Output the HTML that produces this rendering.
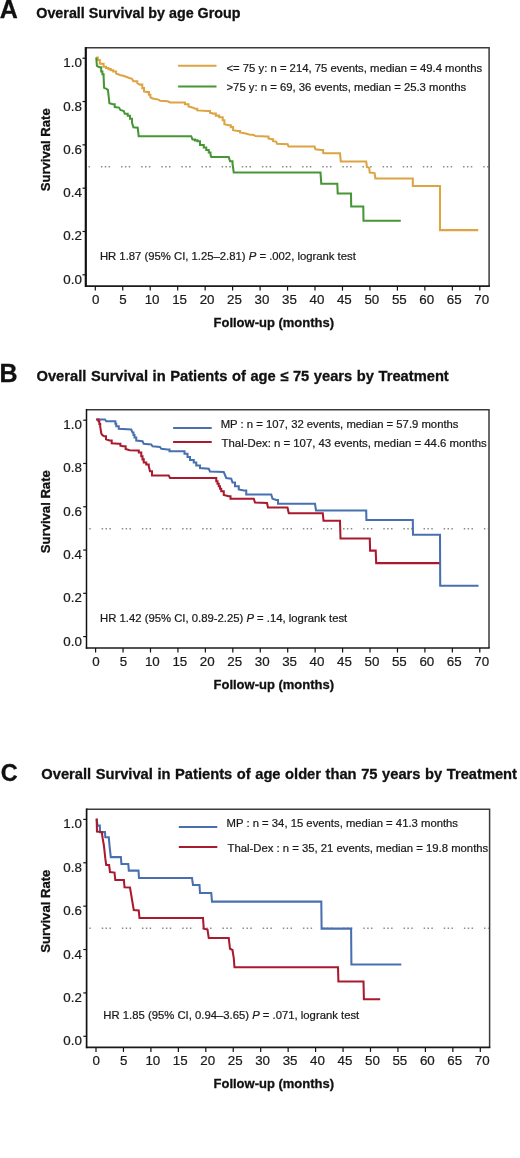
<!DOCTYPE html>
<html><head><meta charset="utf-8"><style>
html,body{margin:0;padding:0;background:#fff;width:520px;height:1158px;overflow:hidden}
svg{display:block;font-family:"Liberation Sans", sans-serif;filter:blur(0.2px)}
text{stroke:currentColor;stroke-width:0.22px}
text[font-weight=bold]{stroke-width:0.3px}
</style></head><body>
<svg width="520" height="1158" viewBox="0 0 520 1158">
<rect width="520" height="1158" fill="#fff"/>
<text x="-0.3" y="17.8" font-size="25" font-weight="bold" fill="#111" color="#111">A</text>
<text x="36.3" y="17.6" font-size="14.3" font-weight="bold" word-spacing="0" fill="#111" color="#111">Overall Survival by age Group</text>
<line x1="87.0" y1="166.80" x2="488.3" y2="166.80" stroke="#8c8c8c" stroke-width="1.5" stroke-dasharray="1.5 2.35 1.5 2.35 1.5 10.92" stroke-dashoffset="6.2"/>
<path d="M85.8,47.8 H489.1 V286.1" fill="none" stroke="#3a3a3a" stroke-width="1.5"/>
<line x1="85.1" y1="286.1" x2="489.85" y2="286.1" stroke="#1a1a1a" stroke-width="1.7"/>
<line x1="85.8" y1="47.05" x2="85.8" y2="286.90000000000003" stroke="#111" stroke-width="2.2"/>
<line x1="82.5" y1="274.80" x2="85.8" y2="274.80" stroke="#111" stroke-width="1.2"/>
<text x="81.9" y="283.80" font-size="13.35" text-anchor="end" fill="#1a1a1a" color="#1a1a1a">0.0</text>
<line x1="82.5" y1="231.48" x2="85.8" y2="231.48" stroke="#111" stroke-width="1.2"/>
<text x="81.9" y="240.48" font-size="13.35" text-anchor="end" fill="#1a1a1a" color="#1a1a1a">0.2</text>
<line x1="82.5" y1="188.16" x2="85.8" y2="188.16" stroke="#111" stroke-width="1.2"/>
<text x="81.9" y="197.16" font-size="13.35" text-anchor="end" fill="#1a1a1a" color="#1a1a1a">0.4</text>
<line x1="82.5" y1="144.84" x2="85.8" y2="144.84" stroke="#111" stroke-width="1.2"/>
<text x="81.9" y="153.84" font-size="13.35" text-anchor="end" fill="#1a1a1a" color="#1a1a1a">0.6</text>
<line x1="82.5" y1="101.52" x2="85.8" y2="101.52" stroke="#111" stroke-width="1.2"/>
<text x="81.9" y="110.52" font-size="13.35" text-anchor="end" fill="#1a1a1a" color="#1a1a1a">0.8</text>
<line x1="82.5" y1="58.20" x2="85.8" y2="58.20" stroke="#111" stroke-width="1.2"/>
<text x="81.9" y="67.20" font-size="13.35" text-anchor="end" fill="#1a1a1a" color="#1a1a1a">1.0</text>
<line x1="95.30" y1="286.1" x2="95.30" y2="290.6" stroke="#111" stroke-width="1.2"/>
<text x="95.60" y="304.00" font-size="13.35" text-anchor="middle" fill="#1a1a1a" color="#1a1a1a">0</text>
<line x1="122.76" y1="286.1" x2="122.76" y2="290.6" stroke="#111" stroke-width="1.2"/>
<text x="123.06" y="304.00" font-size="13.35" text-anchor="middle" fill="#1a1a1a" color="#1a1a1a">5</text>
<line x1="150.23" y1="286.1" x2="150.23" y2="290.6" stroke="#111" stroke-width="1.2"/>
<text x="152.13" y="304.00" font-size="13.35" text-anchor="middle" fill="#1a1a1a" color="#1a1a1a">10</text>
<line x1="177.69" y1="286.1" x2="177.69" y2="290.6" stroke="#111" stroke-width="1.2"/>
<text x="179.59" y="304.00" font-size="13.35" text-anchor="middle" fill="#1a1a1a" color="#1a1a1a">15</text>
<line x1="205.16" y1="286.1" x2="205.16" y2="290.6" stroke="#111" stroke-width="1.2"/>
<text x="207.06" y="304.00" font-size="13.35" text-anchor="middle" fill="#1a1a1a" color="#1a1a1a">20</text>
<line x1="232.62" y1="286.1" x2="232.62" y2="290.6" stroke="#111" stroke-width="1.2"/>
<text x="234.52" y="304.00" font-size="13.35" text-anchor="middle" fill="#1a1a1a" color="#1a1a1a">25</text>
<line x1="260.09" y1="286.1" x2="260.09" y2="290.6" stroke="#111" stroke-width="1.2"/>
<text x="261.99" y="304.00" font-size="13.35" text-anchor="middle" fill="#1a1a1a" color="#1a1a1a">30</text>
<line x1="287.55" y1="286.1" x2="287.55" y2="290.6" stroke="#111" stroke-width="1.2"/>
<text x="289.45" y="304.00" font-size="13.35" text-anchor="middle" fill="#1a1a1a" color="#1a1a1a">35</text>
<line x1="315.01" y1="286.1" x2="315.01" y2="290.6" stroke="#111" stroke-width="1.2"/>
<text x="316.91" y="304.00" font-size="13.35" text-anchor="middle" fill="#1a1a1a" color="#1a1a1a">40</text>
<line x1="342.48" y1="286.1" x2="342.48" y2="290.6" stroke="#111" stroke-width="1.2"/>
<text x="344.38" y="304.00" font-size="13.35" text-anchor="middle" fill="#1a1a1a" color="#1a1a1a">45</text>
<line x1="369.94" y1="286.1" x2="369.94" y2="290.6" stroke="#111" stroke-width="1.2"/>
<text x="371.84" y="304.00" font-size="13.35" text-anchor="middle" fill="#1a1a1a" color="#1a1a1a">50</text>
<line x1="397.41" y1="286.1" x2="397.41" y2="290.6" stroke="#111" stroke-width="1.2"/>
<text x="399.31" y="304.00" font-size="13.35" text-anchor="middle" fill="#1a1a1a" color="#1a1a1a">55</text>
<line x1="424.87" y1="286.1" x2="424.87" y2="290.6" stroke="#111" stroke-width="1.2"/>
<text x="426.77" y="304.00" font-size="13.35" text-anchor="middle" fill="#1a1a1a" color="#1a1a1a">60</text>
<line x1="452.34" y1="286.1" x2="452.34" y2="290.6" stroke="#111" stroke-width="1.2"/>
<text x="454.24" y="304.00" font-size="13.35" text-anchor="middle" fill="#1a1a1a" color="#1a1a1a">65</text>
<line x1="479.80" y1="286.1" x2="479.80" y2="290.6" stroke="#111" stroke-width="1.2"/>
<text x="481.70" y="304.00" font-size="13.35" text-anchor="middle" fill="#1a1a1a" color="#1a1a1a">70</text>
<text transform="translate(50.3,149.80) rotate(-90)" font-size="13.1" font-weight="bold" text-anchor="middle" fill="#111" color="#111">Survival Rate</text>
<text x="273.8" y="327.3" font-size="13" font-weight="bold" text-anchor="middle" fill="#111" color="#111">Follow-up (months)</text>
<line x1="178.1" y1="65.7" x2="216.5" y2="65.7" stroke="#DEA342" stroke-width="2.0"/>
<text x="226.5" y="71.6" font-size="11.3" fill="#1a1a1a" color="#1a1a1a">&lt;= 75 y: n = 214, 75 events, median = 49.4 months</text>
<line x1="178.1" y1="86.5" x2="216.5" y2="86.5" stroke="#479636" stroke-width="2.0"/>
<text x="226.5" y="91.4" font-size="11.3" fill="#1a1a1a" color="#1a1a1a">&gt;75 y: n = 69, 36 events, median = 25.3 months</text>
<text x="99.9" y="260.3" font-size="11.3" fill="#1a1a1a" color="#1a1a1a">HR 1.87 (95% CI, 1.25–2.81) <tspan font-style="italic">P</tspan> = .002, logrank test</text>
<polyline points="96.25,57.50 97.80,57.50 97.80,60.00 99.80,60.00 99.80,63.80 103.60,63.80 103.60,66.70 106.00,66.70 106.00,67.90 108.40,67.90 108.40,69.10 110.80,69.10 110.80,70.30 113.20,70.30 113.20,71.50 116.10,71.50 116.10,73.50 120.00,74.90 124.80,76.30 128.60,77.80 132.00,78.75 133.40,81.20 137.30,81.20 137.30,83.10 140.00,84.60 142.30,84.60 142.30,88.10 144.00,88.10 144.00,91.50 147.50,92.10 148.95,92.10 148.95,94.70 150.40,94.70 150.40,97.30 152.70,98.50 158.50,99.60 160.20,100.80 167.70,101.30 170.00,102.50 182.70,102.50 185.00,102.50 185.00,104.20 188.50,104.20 188.50,106.50 193.10,107.70 195.00,108.70 197.30,108.70 197.30,110.40 207.70,111.00 210.00,111.00 210.00,112.70 213.50,113.60 215.80,113.60 215.80,115.60 219.20,115.60 219.20,117.30 222.70,117.30 222.70,120.20 224.40,120.20 224.40,124.20 228.50,125.20 230.80,125.20 230.80,127.10 233.10,127.10 233.10,130.20 237.70,130.90 240.00,130.90 240.00,132.50 245.80,133.50 249.20,134.60 253.80,135.00 255.40,136.10 266.90,136.50 268.50,136.50 268.50,138.50 271.50,139.20 273.10,139.20 273.10,141.20 276.20,141.60 276.90,143.80 287.70,144.20 288.50,146.50 314.60,146.50 315.40,149.30 321.50,149.90 323.10,149.90 323.10,152.70 323.50,153.30 340.00,153.30 340.80,161.50 366.20,161.50 366.90,166.90 369.20,167.70 369.70,172.60 374.60,173.10 375.40,178.50 412.80,178.50 412.80,186.00 440.00,186.00 440.00,230.10 478.20,230.10" fill="none" stroke="#DEA342" stroke-width="2.05" stroke-linejoin="miter"/>
<polyline points="96.25,57.50 96.90,65.80 99.30,67.20 101.20,67.20 101.20,71.50 102.40,71.50 102.40,74.15 103.60,74.15 103.60,76.80 104.10,87.90 106.50,88.80 107.90,89.80 108.90,98.50 109.40,103.30 112.75,104.20 114.70,104.20 114.70,107.10 119.00,107.60 120.40,110.00 123.80,111.00 124.80,113.80 127.70,113.80 127.70,115.80 130.00,115.80 130.00,118.70 132.00,118.70 132.00,122.50 133.40,127.30 137.75,127.80 138.70,136.25 191.25,136.25 192.50,139.50 195.00,139.50 195.00,140.38 197.50,140.38 197.50,141.25 200.00,141.25 200.00,145.00 203.75,145.00 203.75,147.50 206.25,147.50 206.25,150.00 208.75,150.00 208.75,152.50 210.50,152.50 210.50,154.50 211.25,157.00 228.75,157.00 230.00,161.25 232.50,161.25 232.50,163.75 233.75,172.50 320.50,172.50 321.25,183.80 337.30,183.80 337.70,193.50 351.00,193.50 351.20,206.50 363.30,206.50 363.50,220.80 400.80,220.80" fill="none" stroke="#479636" stroke-width="2.05" stroke-linejoin="miter"/>
<text x="-0.6" y="382.2" font-size="25" font-weight="bold" fill="#111" color="#111">B</text>
<text x="36.5" y="380.8" font-size="14.7" font-weight="bold" word-spacing="0.5" fill="#111" color="#111">Overall Survival in Patients of age ≤ 75 years by Treatment</text>
<line x1="87.7" y1="528.70" x2="488.2" y2="528.70" stroke="#8c8c8c" stroke-width="1.5" stroke-dasharray="1.5 2.35 1.5 2.35 1.5 10.92" stroke-dashoffset="6.2"/>
<path d="M86.5,409.7 H489.0 V648.0" fill="none" stroke="#3a3a3a" stroke-width="1.5"/>
<line x1="85.8" y1="648.0" x2="489.75" y2="648.0" stroke="#1a1a1a" stroke-width="1.7"/>
<line x1="86.5" y1="408.95" x2="86.5" y2="648.8" stroke="#111" stroke-width="1.5"/>
<line x1="83.2" y1="636.60" x2="86.5" y2="636.60" stroke="#111" stroke-width="1.2"/>
<text x="81.9" y="645.60" font-size="13.35" text-anchor="end" fill="#1a1a1a" color="#1a1a1a">0.0</text>
<line x1="83.2" y1="593.32" x2="86.5" y2="593.32" stroke="#111" stroke-width="1.2"/>
<text x="81.9" y="602.32" font-size="13.35" text-anchor="end" fill="#1a1a1a" color="#1a1a1a">0.2</text>
<line x1="83.2" y1="550.04" x2="86.5" y2="550.04" stroke="#111" stroke-width="1.2"/>
<text x="81.9" y="559.04" font-size="13.35" text-anchor="end" fill="#1a1a1a" color="#1a1a1a">0.4</text>
<line x1="83.2" y1="506.76" x2="86.5" y2="506.76" stroke="#111" stroke-width="1.2"/>
<text x="81.9" y="515.76" font-size="13.35" text-anchor="end" fill="#1a1a1a" color="#1a1a1a">0.6</text>
<line x1="83.2" y1="463.48" x2="86.5" y2="463.48" stroke="#111" stroke-width="1.2"/>
<text x="81.9" y="472.48" font-size="13.35" text-anchor="end" fill="#1a1a1a" color="#1a1a1a">0.8</text>
<line x1="83.2" y1="420.20" x2="86.5" y2="420.20" stroke="#111" stroke-width="1.2"/>
<text x="81.9" y="429.20" font-size="13.35" text-anchor="end" fill="#1a1a1a" color="#1a1a1a">1.0</text>
<line x1="95.60" y1="648.0" x2="95.60" y2="652.5" stroke="#111" stroke-width="1.2"/>
<text x="95.90" y="665.90" font-size="13.35" text-anchor="middle" fill="#1a1a1a" color="#1a1a1a">0</text>
<line x1="123.04" y1="648.0" x2="123.04" y2="652.5" stroke="#111" stroke-width="1.2"/>
<text x="123.34" y="665.90" font-size="13.35" text-anchor="middle" fill="#1a1a1a" color="#1a1a1a">5</text>
<line x1="150.49" y1="648.0" x2="150.49" y2="652.5" stroke="#111" stroke-width="1.2"/>
<text x="152.39" y="665.90" font-size="13.35" text-anchor="middle" fill="#1a1a1a" color="#1a1a1a">10</text>
<line x1="177.93" y1="648.0" x2="177.93" y2="652.5" stroke="#111" stroke-width="1.2"/>
<text x="179.83" y="665.90" font-size="13.35" text-anchor="middle" fill="#1a1a1a" color="#1a1a1a">15</text>
<line x1="205.37" y1="648.0" x2="205.37" y2="652.5" stroke="#111" stroke-width="1.2"/>
<text x="207.27" y="665.90" font-size="13.35" text-anchor="middle" fill="#1a1a1a" color="#1a1a1a">20</text>
<line x1="232.81" y1="648.0" x2="232.81" y2="652.5" stroke="#111" stroke-width="1.2"/>
<text x="234.71" y="665.90" font-size="13.35" text-anchor="middle" fill="#1a1a1a" color="#1a1a1a">25</text>
<line x1="260.26" y1="648.0" x2="260.26" y2="652.5" stroke="#111" stroke-width="1.2"/>
<text x="262.16" y="665.90" font-size="13.35" text-anchor="middle" fill="#1a1a1a" color="#1a1a1a">30</text>
<line x1="287.70" y1="648.0" x2="287.70" y2="652.5" stroke="#111" stroke-width="1.2"/>
<text x="289.60" y="665.90" font-size="13.35" text-anchor="middle" fill="#1a1a1a" color="#1a1a1a">35</text>
<line x1="315.14" y1="648.0" x2="315.14" y2="652.5" stroke="#111" stroke-width="1.2"/>
<text x="317.04" y="665.90" font-size="13.35" text-anchor="middle" fill="#1a1a1a" color="#1a1a1a">40</text>
<line x1="342.59" y1="648.0" x2="342.59" y2="652.5" stroke="#111" stroke-width="1.2"/>
<text x="344.49" y="665.90" font-size="13.35" text-anchor="middle" fill="#1a1a1a" color="#1a1a1a">45</text>
<line x1="370.03" y1="648.0" x2="370.03" y2="652.5" stroke="#111" stroke-width="1.2"/>
<text x="371.93" y="665.90" font-size="13.35" text-anchor="middle" fill="#1a1a1a" color="#1a1a1a">50</text>
<line x1="397.47" y1="648.0" x2="397.47" y2="652.5" stroke="#111" stroke-width="1.2"/>
<text x="399.37" y="665.90" font-size="13.35" text-anchor="middle" fill="#1a1a1a" color="#1a1a1a">55</text>
<line x1="424.91" y1="648.0" x2="424.91" y2="652.5" stroke="#111" stroke-width="1.2"/>
<text x="426.81" y="665.90" font-size="13.35" text-anchor="middle" fill="#1a1a1a" color="#1a1a1a">60</text>
<line x1="452.36" y1="648.0" x2="452.36" y2="652.5" stroke="#111" stroke-width="1.2"/>
<text x="454.26" y="665.90" font-size="13.35" text-anchor="middle" fill="#1a1a1a" color="#1a1a1a">65</text>
<line x1="479.80" y1="648.0" x2="479.80" y2="652.5" stroke="#111" stroke-width="1.2"/>
<text x="481.70" y="665.90" font-size="13.35" text-anchor="middle" fill="#1a1a1a" color="#1a1a1a">70</text>
<text transform="translate(50.3,511.70) rotate(-90)" font-size="13.1" font-weight="bold" text-anchor="middle" fill="#111" color="#111">Survival Rate</text>
<text x="273.8" y="688.9" font-size="13" font-weight="bold" text-anchor="middle" fill="#111" color="#111">Follow-up (months)</text>
<line x1="173.1" y1="428.0" x2="211.7" y2="428.0" stroke="#4870B0" stroke-width="2.0"/>
<text x="220.7" y="427.7" font-size="11.3" fill="#1a1a1a" color="#1a1a1a">MP : n = 107, 32 events, median = 57.9 months</text>
<line x1="173.1" y1="442.1" x2="211.7" y2="442.1" stroke="#A91A2F" stroke-width="2.0"/>
<text x="221.6" y="447.1" font-size="11.36" fill="#1a1a1a" color="#1a1a1a">Thal-Dex: n = 107, 43 events, median = 44.6 months</text>
<text x="100.1" y="622.4" font-size="11.3" fill="#1a1a1a" color="#1a1a1a">HR 1.42 (95% CI, 0.89-2.25) <tspan font-style="italic">P</tspan> = .14, logrank test</text>
<polyline points="96.25,419.50 105.00,419.50 106.25,421.25 114.50,421.25 115.38,421.25 115.38,423.75 116.25,423.75 116.25,426.25 118.75,426.25 118.75,428.75 131.25,429.50 132.50,432.50 133.50,432.50 133.50,435.00 134.50,435.00 134.50,437.50 136.25,437.50 136.25,440.50 142.50,441.25 143.75,443.75 151.25,444.50 152.50,446.25 160.00,447.00 161.25,448.75 167.50,449.50 169.50,449.50 169.50,451.25 182.50,451.25 184.50,451.25 184.50,453.75 187.50,453.75 187.50,457.00 190.00,457.00 190.00,460.00 193.75,460.00 193.75,462.50 196.25,462.50 196.25,465.50 200.00,465.50 200.00,468.00 208.75,468.75 210.00,471.50 223.75,472.00 225.00,475.00 226.25,478.00 231.25,478.75 232.50,482.50 235.00,482.50 235.00,486.25 238.75,486.25 238.75,489.50 243.75,490.50 246.25,490.50 246.25,494.50 271.25,494.50 272.50,498.75 276.25,500.00 278.00,500.00 278.00,503.75 315.00,503.75 316.00,510.40 366.20,510.40 366.40,519.90 412.80,519.90 413.00,534.80 440.00,534.80 440.20,585.80 478.50,585.80" fill="none" stroke="#4870B0" stroke-width="2.05" stroke-linejoin="miter"/>
<polyline points="96.25,419.50 98.50,419.50 98.50,421.30 99.35,421.30 99.35,423.90 100.20,423.90 100.20,426.50 101.30,433.50 102.50,435.20 104.20,436.30 106.00,436.30 106.00,439.20 109.40,440.40 111.70,440.40 111.70,443.30 118.70,443.80 120.40,443.80 120.40,445.60 122.70,446.20 125.60,446.20 125.60,449.00 129.60,450.20 137.10,450.50 138.80,450.50 138.80,452.50 141.25,452.50 141.25,456.25 142.50,456.25 142.50,459.38 143.75,459.38 143.75,462.50 146.25,462.50 146.25,464.50 148.75,464.50 148.75,466.25 150.00,471.25 152.00,471.25 152.00,475.50 168.75,475.50 170.00,478.00 213.75,478.00 216.25,478.00 216.25,481.25 217.50,481.25 217.50,483.75 218.75,483.75 218.75,486.25 220.00,486.25 220.00,488.75 221.25,488.75 221.25,491.25 223.75,491.25 223.75,495.00 228.75,496.25 230.50,496.25 230.50,498.75 253.75,498.75 255.00,502.50 267.00,503.00 268.00,507.50 287.50,507.50 288.75,513.30 322.80,513.30 323.50,520.80 340.00,520.80 340.50,538.50 369.80,538.50 370.10,550.60 375.70,550.60 376.20,563.10 439.50,563.10" fill="none" stroke="#A91A2F" stroke-width="2.05" stroke-linejoin="miter"/>
<text x="0.8" y="781.2" font-size="23.5" font-weight="bold" fill="#111" color="#111">C</text>
<text x="41.3" y="778.6" font-size="14.7" font-weight="bold" word-spacing="0.5" fill="#111" color="#111">Overall Survival in Patients of age older than 75 years by Treatment</text>
<line x1="87.8" y1="928.35" x2="488.8" y2="928.35" stroke="#8c8c8c" stroke-width="1.5" stroke-dasharray="1.5 2.35 1.5 2.35 1.5 10.92" stroke-dashoffset="6.2"/>
<path d="M86.6,809.2 H489.6 V1047.4" fill="none" stroke="#3a3a3a" stroke-width="1.5"/>
<line x1="85.89999999999999" y1="1047.4" x2="490.35" y2="1047.4" stroke="#1a1a1a" stroke-width="1.7"/>
<line x1="86.6" y1="808.45" x2="86.6" y2="1048.2" stroke="#111" stroke-width="1.7"/>
<line x1="83.3" y1="1036.30" x2="86.6" y2="1036.30" stroke="#111" stroke-width="1.2"/>
<text x="81.9" y="1045.30" font-size="13.35" text-anchor="end" fill="#1a1a1a" color="#1a1a1a">0.0</text>
<line x1="83.3" y1="992.92" x2="86.6" y2="992.92" stroke="#111" stroke-width="1.2"/>
<text x="81.9" y="1001.92" font-size="13.35" text-anchor="end" fill="#1a1a1a" color="#1a1a1a">0.2</text>
<line x1="83.3" y1="949.54" x2="86.6" y2="949.54" stroke="#111" stroke-width="1.2"/>
<text x="81.9" y="958.54" font-size="13.35" text-anchor="end" fill="#1a1a1a" color="#1a1a1a">0.4</text>
<line x1="83.3" y1="906.16" x2="86.6" y2="906.16" stroke="#111" stroke-width="1.2"/>
<text x="81.9" y="915.16" font-size="13.35" text-anchor="end" fill="#1a1a1a" color="#1a1a1a">0.6</text>
<line x1="83.3" y1="862.78" x2="86.6" y2="862.78" stroke="#111" stroke-width="1.2"/>
<text x="81.9" y="871.78" font-size="13.35" text-anchor="end" fill="#1a1a1a" color="#1a1a1a">0.8</text>
<line x1="83.3" y1="819.40" x2="86.6" y2="819.40" stroke="#111" stroke-width="1.2"/>
<text x="81.9" y="828.40" font-size="13.35" text-anchor="end" fill="#1a1a1a" color="#1a1a1a">1.0</text>
<line x1="96.00" y1="1047.4" x2="96.00" y2="1051.9" stroke="#111" stroke-width="1.2"/>
<text x="96.30" y="1065.30" font-size="13.35" text-anchor="middle" fill="#1a1a1a" color="#1a1a1a">0</text>
<line x1="123.45" y1="1047.4" x2="123.45" y2="1051.9" stroke="#111" stroke-width="1.2"/>
<text x="123.75" y="1065.30" font-size="13.35" text-anchor="middle" fill="#1a1a1a" color="#1a1a1a">5</text>
<line x1="150.90" y1="1047.4" x2="150.90" y2="1051.9" stroke="#111" stroke-width="1.2"/>
<text x="152.80" y="1065.30" font-size="13.35" text-anchor="middle" fill="#1a1a1a" color="#1a1a1a">10</text>
<line x1="178.35" y1="1047.4" x2="178.35" y2="1051.9" stroke="#111" stroke-width="1.2"/>
<text x="180.25" y="1065.30" font-size="13.35" text-anchor="middle" fill="#1a1a1a" color="#1a1a1a">15</text>
<line x1="205.80" y1="1047.4" x2="205.80" y2="1051.9" stroke="#111" stroke-width="1.2"/>
<text x="207.70" y="1065.30" font-size="13.35" text-anchor="middle" fill="#1a1a1a" color="#1a1a1a">20</text>
<line x1="233.25" y1="1047.4" x2="233.25" y2="1051.9" stroke="#111" stroke-width="1.2"/>
<text x="235.15" y="1065.30" font-size="13.35" text-anchor="middle" fill="#1a1a1a" color="#1a1a1a">25</text>
<line x1="260.70" y1="1047.4" x2="260.70" y2="1051.9" stroke="#111" stroke-width="1.2"/>
<text x="262.60" y="1065.30" font-size="13.35" text-anchor="middle" fill="#1a1a1a" color="#1a1a1a">30</text>
<line x1="288.15" y1="1047.4" x2="288.15" y2="1051.9" stroke="#111" stroke-width="1.2"/>
<text x="290.05" y="1065.30" font-size="13.35" text-anchor="middle" fill="#1a1a1a" color="#1a1a1a">35</text>
<line x1="315.60" y1="1047.4" x2="315.60" y2="1051.9" stroke="#111" stroke-width="1.2"/>
<text x="317.50" y="1065.30" font-size="13.35" text-anchor="middle" fill="#1a1a1a" color="#1a1a1a">40</text>
<line x1="343.05" y1="1047.4" x2="343.05" y2="1051.9" stroke="#111" stroke-width="1.2"/>
<text x="344.95" y="1065.30" font-size="13.35" text-anchor="middle" fill="#1a1a1a" color="#1a1a1a">45</text>
<line x1="370.50" y1="1047.4" x2="370.50" y2="1051.9" stroke="#111" stroke-width="1.2"/>
<text x="372.40" y="1065.30" font-size="13.35" text-anchor="middle" fill="#1a1a1a" color="#1a1a1a">50</text>
<line x1="397.95" y1="1047.4" x2="397.95" y2="1051.9" stroke="#111" stroke-width="1.2"/>
<text x="399.85" y="1065.30" font-size="13.35" text-anchor="middle" fill="#1a1a1a" color="#1a1a1a">55</text>
<line x1="425.40" y1="1047.4" x2="425.40" y2="1051.9" stroke="#111" stroke-width="1.2"/>
<text x="427.30" y="1065.30" font-size="13.35" text-anchor="middle" fill="#1a1a1a" color="#1a1a1a">60</text>
<line x1="452.85" y1="1047.4" x2="452.85" y2="1051.9" stroke="#111" stroke-width="1.2"/>
<text x="454.75" y="1065.30" font-size="13.35" text-anchor="middle" fill="#1a1a1a" color="#1a1a1a">65</text>
<line x1="480.30" y1="1047.4" x2="480.30" y2="1051.9" stroke="#111" stroke-width="1.2"/>
<text x="482.20" y="1065.30" font-size="13.35" text-anchor="middle" fill="#1a1a1a" color="#1a1a1a">70</text>
<text transform="translate(50.3,911.15) rotate(-90)" font-size="13.1" font-weight="bold" text-anchor="middle" fill="#111" color="#111">Survival Rate</text>
<text x="273.8" y="1088.4" font-size="13" font-weight="bold" text-anchor="middle" fill="#111" color="#111">Follow-up (months)</text>
<line x1="178.8" y1="827.1" x2="217.3" y2="827.1" stroke="#4870B0" stroke-width="2.0"/>
<text x="226.5" y="827.1" font-size="11.3" fill="#1a1a1a" color="#1a1a1a">MP : n = 34, 15 events, median = 41.3 months</text>
<line x1="178.8" y1="847.0" x2="217.3" y2="847.0" stroke="#A91A2F" stroke-width="2.0"/>
<text x="227.6" y="852.2" font-size="11.3" fill="#1a1a1a" color="#1a1a1a">Thal-Dex : n = 35, 21 events, median = 19.8 months</text>
<text x="103.3" y="1019.3" font-size="11.3" fill="#1a1a1a" color="#1a1a1a">HR 1.85 (95% CI, 0.94–3.65) <tspan font-style="italic">P</tspan> = .071, logrank test</text>
<polyline points="96.65,818.65 97.50,825.60 99.80,825.60 100.10,832.10 105.00,832.10 105.30,837.30 108.80,837.30 109.60,846.30 110.80,857.10 120.90,857.10 121.40,864.00 128.30,864.00 128.80,870.60 138.50,870.60 139.00,878.00 192.00,878.00 193.00,885.00 199.50,885.00 200.00,893.00 211.25,893.00 212.00,901.60 321.30,901.60 321.60,928.60 351.10,928.60 351.40,964.50 401.30,964.50" fill="none" stroke="#4870B0" stroke-width="2.05" stroke-linejoin="miter"/>
<polyline points="96.65,818.65 97.00,831.60 101.80,832.10 102.70,838.50 103.90,845.50 105.30,858.40 106.20,865.00 109.10,865.00 110.00,872.00 114.50,872.60 115.30,880.00 123.90,880.00 124.50,887.30 130.00,887.50 131.25,895.00 132.50,902.50 133.75,910.00 138.75,910.50 139.50,918.00 203.00,918.00 203.75,928.75 207.50,929.50 208.75,938.00 228.75,938.00 230.00,948.75 232.50,950.00 233.75,958.00 234.50,967.30 338.00,967.30 338.40,981.40 363.50,981.40 363.90,999.20 380.20,999.20" fill="none" stroke="#A91A2F" stroke-width="2.05" stroke-linejoin="miter"/>
</svg>
</body></html>
